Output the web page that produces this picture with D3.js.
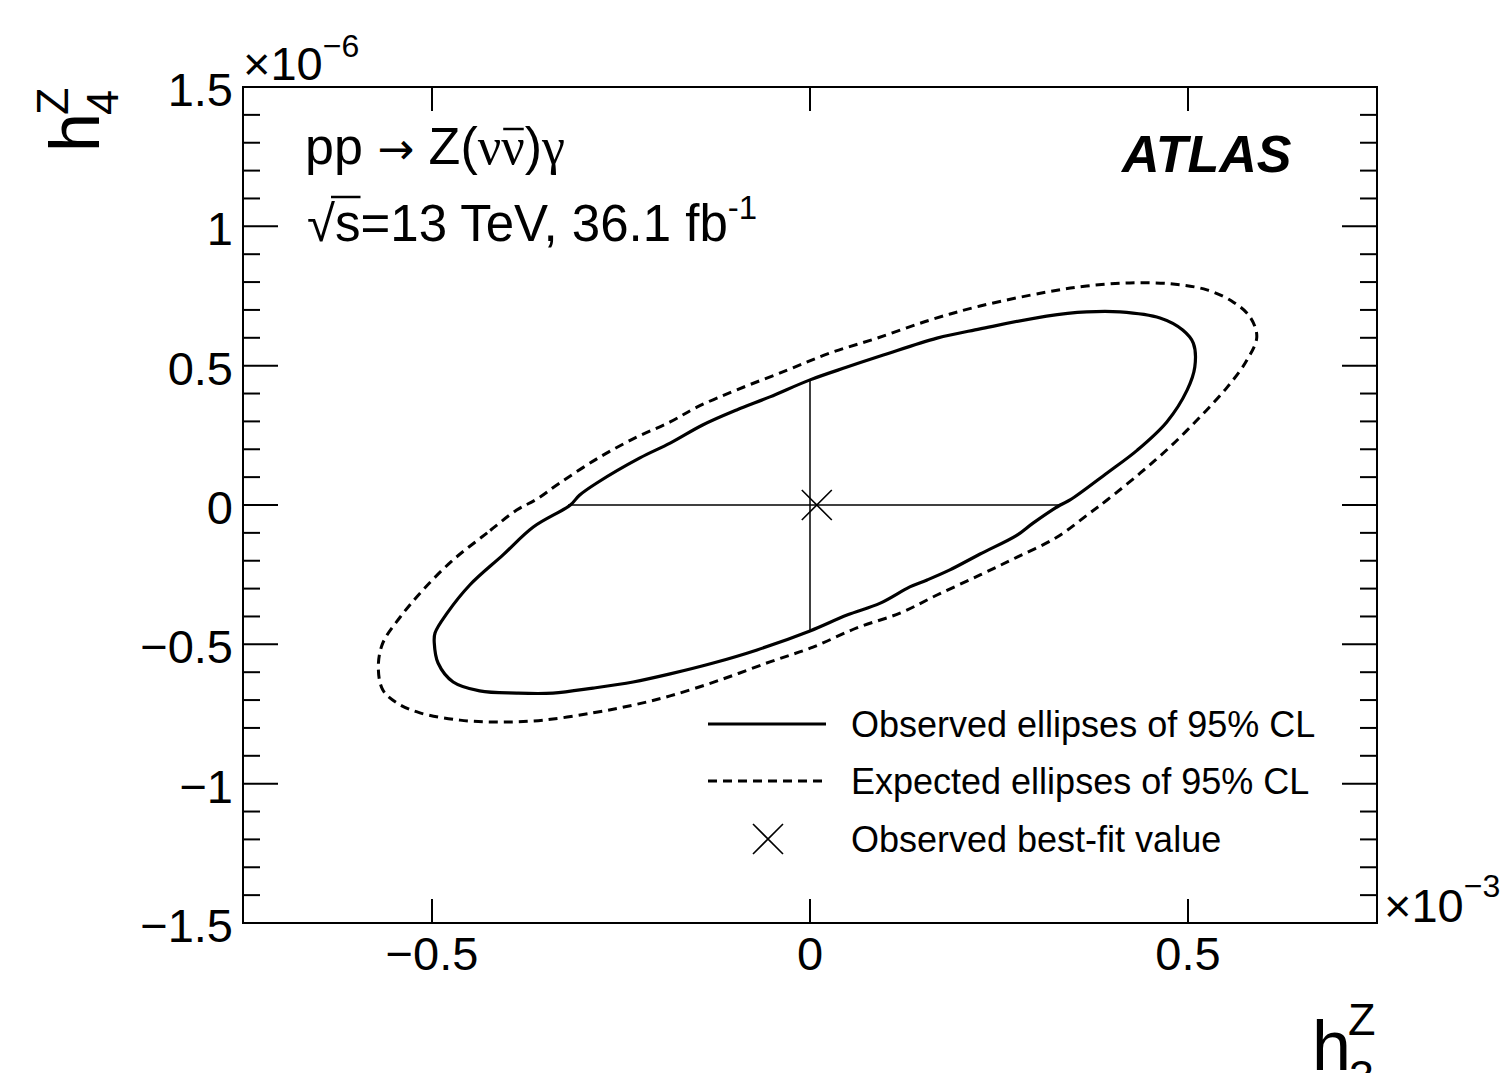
<!DOCTYPE html>
<html>
<head>
<meta charset="utf-8">
<script src="https://cdn.jsdelivr.net/npm/d3@7"></script>
<style>
  html, body { margin: 0; padding: 0; background: #fff; }
  svg { display: block; }
  text { font-family: "Liberation Sans", Arial, Helvetica, sans-serif; fill: #000; }
</style>
</head>
<body>
<svg id="chart" width="1501" height="1073"></svg>
<script>
// ---------------- Data (h3 in 1e-3, h4 in 1e-6) ----------------
const observedH3 = [-0.317,-0.366,-0.406,-0.450,-0.480,-0.496,-0.497,-0.492,-0.472,-0.437,-0.388,-0.340,-0.287,-0.234,-0.185,-0.128,-0.070,0.000,0.049,0.093,0.132,0.155,0.185,0.225,0.274,0.295,0.331,0.344,0.393,0.433,0.472,0.499,0.509,0.507,0.493,0.463,0.410,0.366,0.313,0.225,0.168,0.097,0.049,0.000,-0.053,-0.097,-0.142,-0.185,-0.225,-0.282,-0.305];
const observedH4 = [0.000,-0.079,-0.179,-0.287,-0.388,-0.459,-0.495,-0.567,-0.635,-0.667,-0.675,-0.675,-0.657,-0.635,-0.606,-0.567,-0.520,-0.452,-0.395,-0.352,-0.294,-0.269,-0.233,-0.176,-0.108,-0.065,0.000,0.018,0.115,0.197,0.298,0.413,0.495,0.581,0.628,0.671,0.693,0.693,0.678,0.632,0.599,0.538,0.495,0.449,0.388,0.341,0.287,0.222,0.169,0.079,0.035];

const expectedH3 = [-0.388,-0.427,-0.472,-0.512,-0.542,-0.565,-0.571,-0.565,-0.546,-0.516,-0.463,-0.410,-0.353,-0.287,-0.234,-0.185,-0.119,-0.053,0.004,0.062,0.119,0.168,0.225,0.274,0.327,0.370,0.393,0.437,0.476,0.516,0.552,0.578,0.591,0.582,0.560,0.525,0.480,0.423,0.366,0.313,0.225,0.159,0.089,0.026,-0.030,-0.097,-0.149,-0.185,-0.229,-0.278,-0.331,-0.362];
const expectedH4 = [-0.018,-0.100,-0.197,-0.305,-0.402,-0.495,-0.581,-0.664,-0.711,-0.746,-0.772,-0.779,-0.772,-0.746,-0.718,-0.685,-0.628,-0.563,-0.510,-0.441,-0.388,-0.323,-0.251,-0.187,-0.115,-0.029,0.018,0.115,0.208,0.316,0.423,0.520,0.603,0.675,0.728,0.772,0.793,0.797,0.786,0.764,0.714,0.664,0.599,0.545,0.484,0.413,0.352,0.298,0.244,0.172,0.079,0.020];

// 1D limit segments and best fit
const limitH3Segment = [[-0.320, 0], [0.333, 0]];
const limitH4Segment = [[0, -0.456], [0, 0.445]];
const bestFit = [0.009, 0.0];

// Ticks
const xMajorTicks = [-0.5, 0, 0.5];
const xTickLabels = ["\u22120.5", "0", "0.5"];
const yMajorTicks = [-1.5, -1, -0.5, 0, 0.5, 1, 1.5];
const yTickLabels = ["\u22121.5", "\u22121", "\u22120.5", "0", "0.5", "1", "1.5"];
const yMinorTicks = [-1.4,-1.3,-1.2,-1.1,-0.9,-0.8,-0.7,-0.6,-0.4,-0.3,-0.2,-0.1,0.1,0.2,0.3,0.4,0.6,0.7,0.8,0.9,1.1,1.2,1.3,1.4];

const legendLabels = ["Observed ellipses of 95% CL", "Expected ellipses of 95% CL", "Observed best-fit value"];

// ---------------- Layout ----------------
const svg = d3.select("#chart");
const L = 243, R = 1377, T = 87, B = 923;
const x = d3.scaleLinear().domain([-0.75, 0.75]).range([L, R]);
const y = d3.scaleLinear().domain([-1.5, 1.5]).range([B, T]);

// Frame
svg.append("rect").attr("x", L).attr("y", T).attr("width", R - L).attr("height", B - T)
  .attr("fill", "none").attr("stroke", "#000").attr("stroke-width", 2);

// Ticks
const tg = svg.append("g").attr("stroke", "#000").attr("stroke-width", 2);
xMajorTicks.forEach(v => {
  tg.append("line").attr("x1", x(v)).attr("x2", x(v)).attr("y1", B).attr("y2", B - 24);
  tg.append("line").attr("x1", x(v)).attr("x2", x(v)).attr("y1", T).attr("y2", T + 24);
});
yMajorTicks.forEach(v => {
  tg.append("line").attr("x1", L).attr("x2", L + 35).attr("y1", y(v)).attr("y2", y(v));
  tg.append("line").attr("x1", R).attr("x2", R - 35).attr("y1", y(v)).attr("y2", y(v));
});
yMinorTicks.forEach(v => {
  tg.append("line").attr("x1", L).attr("x2", L + 17).attr("y1", y(v)).attr("y2", y(v));
  tg.append("line").attr("x1", R).attr("x2", R - 17).attr("y1", y(v)).attr("y2", y(v));
});

// Tick labels
xMajorTicks.forEach((v, i) => {
  svg.append("text").attr("x", x(v)).attr("y", 970).attr("text-anchor", "middle")
    .attr("font-size", 47).text(xTickLabels[i]);
});
yMajorTicks.forEach((v, i) => {
  svg.append("text").attr("x", 233).attr("y", y(v) + 19).attr("text-anchor", "end")
    .attr("font-size", 47).text(yTickLabels[i]);
});

// Exponent labels
const e1 = svg.append("text").attr("x", 243).attr("y", 80).attr("font-size", 47);
e1.append("tspan").text("\u00d710");
e1.append("tspan").attr("font-size", 32).attr("dy", -23).text("\u22126");
const e2 = svg.append("text").attr("x", 1384).attr("y", 922).attr("font-size", 47);
e2.append("tspan").text("\u00d710");
e2.append("tspan").attr("font-size", 32).attr("dy", -25).text("\u22123");

// Axis titles
const xt = svg.append("g");
xt.append("text").attr("x", 1312).attr("y", 1070).attr("font-size", 70).text("h");
xt.append("text").attr("x", 1348).attr("y", 1035).attr("font-size", 45).text("Z");
xt.append("text").attr("x", 1349).attr("y", 1092).attr("font-size", 45).text("3");

const yt = svg.append("g").attr("transform", "translate(99,152) rotate(-90)");
yt.append("text").attr("x", 0).attr("y", 0).attr("font-size", 70).text("h");
yt.append("text").attr("x", 37).attr("y", -31).attr("font-size", 45).text("Z");
yt.append("text").attr("x", 37).attr("y", 19).attr("font-size", 45).text("4");

// Curves
const line = d3.line().x(d => x(d[0])).y(d => y(d[1])).curve(d3.curveCatmullRomClosed.alpha(0.5));
const obs = observedH3.map((v, i) => [v, observedH4[i]]);
const exp = expectedH3.map((v, i) => [v, expectedH4[i]]);

svg.append("path").attr("d", line(exp)).attr("fill", "none").attr("stroke", "#000")
  .attr("stroke-width", 3).attr("stroke-dasharray", "9,6");
svg.append("path").attr("d", line(obs)).attr("fill", "none").attr("stroke", "#000")
  .attr("stroke-width", 3.2).attr("stroke-linejoin", "round");

// 1D limit lines
const seg = d3.line().x(d => x(d[0])).y(d => y(d[1]));
svg.append("path").attr("d", seg(limitH3Segment)).attr("stroke", "#000").attr("stroke-width", 1.5).attr("fill", "none");
svg.append("path").attr("d", seg(limitH4Segment)).attr("stroke", "#000").attr("stroke-width", 1.5).attr("fill", "none");

// Best-fit marker
function cross(g, cx, cy, s) {
  g.append("path").attr("d", `M${cx - s},${cy - s}L${cx + s},${cy + s}M${cx - s},${cy + s}L${cx + s},${cy - s}`)
    .attr("stroke", "#000").attr("stroke-width", 1.6).attr("fill", "none");
}
cross(svg, x(bestFit[0]), y(bestFit[1]), 15);

// Legend
svg.append("line").attr("x1", 708).attr("x2", 826).attr("y1", 724).attr("y2", 724)
  .attr("stroke", "#000").attr("stroke-width", 3.2);
svg.append("line").attr("x1", 708).attr("x2", 826).attr("y1", 781).attr("y2", 781)
  .attr("stroke", "#000").attr("stroke-width", 3).attr("stroke-dasharray", "9,6");
cross(svg, 768, 839, 15);
[737, 794, 852].forEach((yy, i) => {
  svg.append("text").attr("x", 851).attr("y", yy).attr("font-size", 36).text(legendLabels[i]);
});

// Process text
const t1 = svg.append("text").attr("x", 305).attr("y", 164).attr("font-size", 52);
t1.append("tspan").text("pp ");
t1.append("tspan").attr("font-family", "DejaVu Sans, sans-serif").attr("font-size", 44).text("\u2192");
t1.append("tspan").text(" Z(");
t1.append("tspan").attr("font-family", "Liberation Serif, serif").text("\u03bd");
t1.append("tspan").attr("font-family", "Liberation Serif, serif").text("\u03bd");
t1.append("tspan").text(")");
t1.append("tspan").attr("font-family", "Liberation Serif, serif").text("\u03b3");
// overbar on second nu
{
  const node = t1.node();
  const ext = node.getExtentOfChar(8);
  svg.append("line").attr("x1", ext.x + 2).attr("x2", ext.x + ext.width - 1)
    .attr("y1", 129).attr("y2", 129).attr("stroke", "#000").attr("stroke-width", 2.5);
}

const t2 = svg.append("text").attr("x", 307).attr("y", 241).attr("font-size", 51);
t2.append("tspan").text("\u221a");
t2.append("tspan").text("s=13 TeV, 36.1 fb");
t2.append("tspan").attr("font-size", 33).attr("dy", -22).text("-1");
{
  const node = t2.node();
  const ext = node.getExtentOfChar(1);
  svg.append("line").attr("x1", ext.x - 4).attr("x2", ext.x + ext.width)
    .attr("y1", 197).attr("y2", 197).attr("stroke", "#000").attr("stroke-width", 2.5);
}

// ATLAS
svg.append("text").attr("x", 1122).attr("y", 172).attr("font-size", 52)
  .attr("font-weight", "bold").attr("font-style", "italic").text("ATLAS");
</script>
</body>
</html>
